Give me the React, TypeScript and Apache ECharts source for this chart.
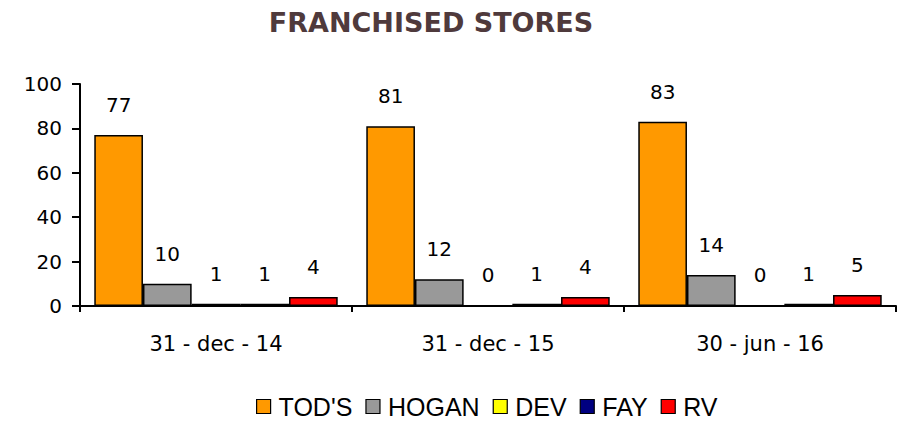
import React, { useEffect, useRef } from "react";
import * as echarts from "echarts";

const categories = ["31 - dec - 14", "31 - dec - 15", "30 - jun - 16"];
const seriesNames = ["TOD'S", "HOGAN", "DEV", "FAY", "RV"];
const seriesColors = ["#FF9900", "#999999", "#FFFF00", "#000080", "#FF0000"];
const todsValues = [77, 81, 83];
const hoganValues = [10, 12, 14];
const devValues = [1, 0, 0];
const fayValues = [1, 1, 1];
const rvValues = [4, 4, 5];
const yTicks = [0, 20, 40, 60, 80, 100];

export default function App() {
  const ref = useRef<HTMLDivElement>(null);
  useEffect(() => {
    if (!ref.current) return;
    const chart = echarts.init(ref.current, undefined, { renderer: "svg" });
    const allValues = [todsValues, hoganValues, devValues, fayValues, rvValues];
    chart.setOption({
      animation: false,
      title: {
        text: "FRANCHISED STORES",
        left: 426,
        textAlign: "center",
        top: 4,
        textStyle: { fontFamily: "DejaVu Sans", fontWeight: "bold", fontSize: 27, color: "#4F3A3C" },
      },
      legend: {
        bottom: 0,
        left: 251,
        itemWidth: 14,
        itemHeight: 14,
        itemGap: 13,
        icon: "rect",
        textStyle: { fontFamily: "Liberation Sans", fontSize: 25, color: "#000", padding: [0, 0, 0, 3] },
        data: seriesNames.map((n, i) => ({
          name: n,
          itemStyle: { color: seriesColors[i], borderColor: "#000", borderWidth: 1.2 },
        })),
      },
      grid: { left: 80, right: 12, top: 84, bottom: 118 },
      xAxis: {
        type: "category",
        data: categories,
        axisLine: { lineStyle: { color: "#000", width: 2 } },
        axisTick: { show: true, length: 6, lineStyle: { color: "#000", width: 2 } },
        axisLabel: { fontFamily: "DejaVu Sans", fontSize: 21, color: "#000", margin: 27 },
      },
      yAxis: {
        type: "value",
        min: 0,
        max: 100,
        interval: 20,
        splitLine: { show: false },
        axisLine: { show: true, lineStyle: { color: "#000", width: 2 } },
        axisTick: { show: true, length: 8, lineStyle: { color: "#000", width: 2 } },
        axisLabel: {
          fontFamily: "DejaVu Sans",
          fontSize: 20,
          color: "#000",
          margin: 18,
          formatter: (v: number) => (yTicks.includes(v) ? String(v) : ""),
        },
      },
      series: seriesNames.map((n, i) => ({
        name: n,
        type: "bar",
        data: allValues[i],
        barCategoryGap: "10.5%",
        barGap: "0%",
        itemStyle: { color: seriesColors[i], borderColor: "#000", borderWidth: 1.5 },
        label: {
          show: true,
          position: "top",
          distance: 20,
          fontFamily: "DejaVu Sans",
          fontSize: 20,
          color: "#000",
        },
      })),
    });
    return () => chart.dispose();
  }, []);
  return <div ref={ref} style={{ width: 908, height: 424, position: "absolute", left: 0, top: 0 }} />;
}
